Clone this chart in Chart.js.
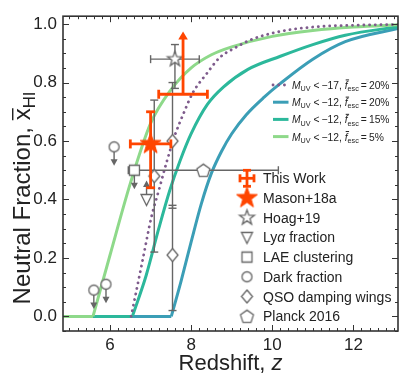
<!DOCTYPE html>
<html><head><meta charset="utf-8">
<script src="https://cdn.jsdelivr.net/npm/chart.js@4.4.1/dist/chart.umd.min.js"></script>
<style>html,body{margin:0;padding:0;background:#fff;overflow:hidden}canvas{display:block}</style>
</head><body>
<canvas id="chart" width="407" height="384"></canvas>
<script>
// ---------------- data ----------------
const xTickLabels = [6, 8, 10, 12];
const yTickLabels = [0.0, 0.2, 0.4, 0.6, 0.8, 1.0];

// model reionization histories: redshift and neutral fraction
const zM17f20 = [6.52, 6.8, 7.02, 7.2, 7.4, 7.6, 7.8, 8.04, 8.38, 8.7, 9.1, 9.5, 10.2, 11.0, 12.0, 13.2];
const xM17f20 = [0.0, 0.19, 0.34, 0.43, 0.53, 0.62, 0.69, 0.765, 0.83, 0.885, 0.92, 0.948, 0.975, 0.99, 0.996, 0.999];
const zM12f20 = [4.8, 7.51, 7.75, 8.0, 8.25, 8.5, 8.75, 9.0, 9.36, 9.8, 10.2, 11.0, 11.8, 13.2];
const xM12f20 = [0.0, 0.0, 0.12, 0.255, 0.385, 0.49, 0.565, 0.625, 0.69, 0.75, 0.797, 0.88, 0.94, 0.988];
const zM12f15 = [4.8, 6.55, 6.89, 7.2, 7.47, 7.72, 8.0, 8.4, 8.8, 9.4, 10.2, 11.0, 11.8, 13.2];
const xM12f15 = [0.0, 0.0, 0.14, 0.30, 0.43, 0.53, 0.625, 0.725, 0.785, 0.845, 0.89, 0.93, 0.962, 0.993];
const zM12f05 = [4.8, 5.58, 6.0, 6.5, 7.0, 7.5, 8.0, 8.5, 9.0, 10.0, 11.0, 12.0, 13.2];
const xM12f05 = [0.0, 0.0, 0.21, 0.455, 0.66, 0.775, 0.85, 0.895, 0.922, 0.958, 0.978, 0.99, 0.998];

// observational constraints
const thisWorkZ = [7.8];  const thisWorkX = [0.76]; const thisWorkZerr = [0.6]; const thisWorkLowLim = [0.215];
const masonZ = [7.0];     const masonX = [0.59];    const masonZerr = [0.5];    const masonXlo = [0.15]; const masonXhi = [0.11];
const hoagZ = [7.6];      const hoagX = [0.88];     const hoagZerr = [0.6];     const hoagXlo = [0.10];  const hoagXhi = [0.05];
const lyaZ = [6.9];       const lyaX = [0.40];      const lyaLowLim = [0.065];
const laeZ = [6.6];       const laeX = [0.50];      const laeUpLim = [0.065];
const darkZ = [5.6, 5.9, 6.1]; const darkX = [0.09, 0.11, 0.58]; const darkUpLim = [0.065, 0.065, 0.065];
const qsoZ = [7.09, 7.54, 7.54]; const qsoX = [0.48, 0.60, 0.21]; const qsoXlo = [0.26, 0.23, 0.19]; const qsoXhi = [0.26, 0.20, 0.17];
const planckZ = [8.3];    const planckX = [0.5];    const planckZerr = [1.85];

const obsLabels = ['This Work', 'Mason+18a', 'Hoag+19', 'Lyα fraction', 'LAE clustering', 'Dark fraction', 'QSO damping wings', 'Planck 2016'];
const modelMuv = ['−17', '−12', '−12', '−12'];
const modelFesc = ['20%', '20%', '15%', '5%'];

// ---------------- styles ----------------
const FONT = "'Liberation Sans', Arial, Helvetica, sans-serif";
const GREY = '#666666', ORANGE = '#ff4500', AXC = '#333333';
const C_M17 = '#7e5b8c', C_F20 = '#3b9eb6', C_F15 = '#2cb89b', C_F05 = '#8ed98a';

function makeCanvas(w, h, fn) { const c = document.createElement('canvas'); c.width = w; c.height = h; fn(c.getContext('2d'), w / 2, h / 2); return c; }
function polyMarker(pts, size, fill, stroke, lw) {
  return makeCanvas(size, size, (g, cx, cy) => {
    g.beginPath(); pts.forEach((p, i) => i ? g.lineTo(cx + p[0], cy + p[1]) : g.moveTo(cx + p[0], cy + p[1]));
    g.closePath(); g.fillStyle = fill; g.fill();
    if (lw) { g.lineWidth = lw; g.strokeStyle = stroke; g.lineJoin = 'miter'; g.stroke(); }
  });
}
function starPts(R) { const p = []; for (let i = 0; i < 10; i++) { const a = -Math.PI / 2 + i * Math.PI / 5, r = i % 2 ? R * 0.4 : R; p.push([r * Math.cos(a), r * Math.sin(a)]); } return p; }
function pentPts(R) { const p = []; for (let i = 0; i < 5; i++) { const a = -Math.PI / 2 + i * 2 * Math.PI / 5; p.push([R * Math.cos(a), R * Math.sin(a) + R * 0.1]); } return p; }
const mkMasonStar = polyMarker(starPts(11), 27, ORANGE, ORANGE, 1);
const mkHoagStar = polyMarker(starPts(7.8), 21, '#fff', GREY, 1.3);
const mkTri = polyMarker([[-5.5, -5], [5.5, -5], [0, 6]], 17, '#fff', GREY, 1.3);
const mkSquare = polyMarker([[-5, -5], [5, -5], [5, 5], [-5, 5]], 15, '#fff', GREY, 1.3);
const mkDiamond = polyMarker([[0, -6.5], [5.5, 0], [0, 6.5], [-5.5, 0]], 17, '#fff', GREY, 1.3);
const mkPent = polyMarker(pentPts(6.8), 19, '#fff', GREY, 1.3);
const mkCircle = makeCanvas(15, 15, (g, cx, cy) => { g.beginPath(); g.arc(cx, cy, 5, 0, 2 * Math.PI); g.fillStyle = '#fff'; g.fill(); g.lineWidth = 1.3; g.strokeStyle = GREY; g.stroke(); });

// ---------------- datasets ----------------
const pts = (zs, xs) => zs.map((z, i) => ({ x: z, y: xs[i] }));
function splitCurve(zs, xs) { // flat zero part + rising part
  let k = 0; for (let i = 0; i < xs.length; i++) if (xs[i] === 0) k = i;
  return { flat: pts(zs.slice(0, k + 1), xs.slice(0, k + 1)), rise: pts(zs.slice(k), xs.slice(k)) };
}
function curveSets(zs, xs, color, label) {
  const s = splitCurve(zs, xs);
  const base = { showLine: true, borderColor: color, borderWidth: 3, pointRadius: 0, fill: false };
  const out = [];
  if (s.flat.length > 1) out.push(Object.assign({}, base, { data: s.flat, tension: 0 }));
  out.push(Object.assign({}, base, { data: s.rise, cubicInterpolationMode: 'monotone', modelLabel: label }));
  return out;
}
const datasets = [];
datasets.push(...curveSets(zM12f20, xM12f20, C_F20, 1));
datasets.push(...curveSets(zM12f15, xM12f15, C_F15, 2));
datasets.push(...curveSets(zM12f05, xM12f05, C_F05, 3));
datasets.push({ showLine: true, data: pts(zM17f20, xM17f20), borderColor: C_M17, borderWidth: 2.8, borderDash: [0.1, 5.6], borderCapStyle: 'round', pointRadius: 0, cubicInterpolationMode: 'monotone', modelLabel: 0 });

const markerSet = (data, style, eb, legendIdx) => ({ data, pointStyle: style, pointRadius: 6, showLine: false, eb, legendIdx });
datasets.push(markerSet(pts(planckZ, planckX), mkPent, { color: GREY, lw: 1.4, cap: 4, zerr: planckZerr }, 7));
datasets.push(markerSet(pts(qsoZ, qsoX), mkDiamond, { color: GREY, lw: 1.4, cap: 4, lo: qsoXlo, hi: qsoXhi }, 6));
datasets.push(markerSet(pts(darkZ, darkX), mkCircle, { color: GREY, lw: 1.4, cap: 4, uplim: darkUpLim }, 5));
datasets.push(markerSet(pts(laeZ, laeX), mkSquare, { color: GREY, lw: 1.4, cap: 4, uplim: laeUpLim }, 4));
datasets.push(markerSet(pts(lyaZ, lyaX), mkTri, { color: GREY, lw: 1.4, cap: 4, lowlim: lyaLowLim }, 3));
datasets.push(markerSet(pts(hoagZ, hoagX), mkHoagStar, { color: GREY, lw: 1.4, cap: 4, zerr: hoagZerr, lo: hoagXlo, hi: hoagXhi }, 2));
datasets.push(markerSet(pts(masonZ, masonX), mkMasonStar, { color: ORANGE, lw: 2.8, cap: 4.5, zerr: masonZerr, lo: masonXlo, hi: masonXhi }, 1));
const thisWork = markerSet(pts(thisWorkZ, thisWorkX), 'circle', { color: ORANGE, lw: 2.8, cap: 4.5, zerr: thisWorkZerr, lowlim: thisWorkLowLim, head: [4.8, 8] }, 0);
thisWork.pointRadius = 0;
datasets.push(thisWork);
// later datasets on top
datasets.forEach((d, i) => { d.order = datasets.length - i; });

// ---------------- drawing helpers ----------------
function arrow(ctx, x, y0, y1, hw, hl) {
  const dir = Math.sign(y1 - y0);
  ctx.beginPath(); ctx.moveTo(x, y0); ctx.lineTo(x, y1 - dir * hl * 0.6); ctx.stroke();
  ctx.beginPath(); ctx.moveTo(x - hw, y1 - dir * hl); ctx.lineTo(x + hw, y1 - dir * hl); ctx.lineTo(x, y1); ctx.closePath(); ctx.fill();
}
function drawErr(chart, ds) {
  const eb = ds.eb; if (!eb) return;
  const ctx = chart.ctx, xs = chart.scales.x, ys = chart.scales.y;
  const head = eb.head || [3.5, 6.5];
  ctx.save(); ctx.strokeStyle = eb.color; ctx.fillStyle = eb.color; ctx.lineWidth = eb.lw; ctx.lineCap = 'butt';
  ds.data.forEach((p, i) => {
    const px = xs.getPixelForValue(p.x), py = ys.getPixelForValue(p.y);
    const seg = (a, b, c, d) => { ctx.beginPath(); ctx.moveTo(a, b); ctx.lineTo(c, d); ctx.stroke(); };
    if (eb.zerr) {
      const a = xs.getPixelForValue(p.x - eb.zerr[i]), b = xs.getPixelForValue(p.x + eb.zerr[i]);
      seg(a, py, b, py); seg(a, py - eb.cap, a, py + eb.cap); seg(b, py - eb.cap, b, py + eb.cap);
    }
    if (eb.lo) {
      const a = ys.getPixelForValue(p.y - eb.lo[i]), b = ys.getPixelForValue(p.y + eb.hi[i]);
      seg(px, a, px, b); seg(px - eb.cap, a, px + eb.cap, a); seg(px - eb.cap, b, px + eb.cap, b);
    }
    if (eb.uplim) arrow(ctx, px, py, ys.getPixelForValue(p.y - eb.uplim[i]), head[0], head[1]);
    if (eb.lowlim) arrow(ctx, px, py, ys.getPixelForValue(p.y + eb.lowlim[i]), head[0], head[1]);
  });
  ctx.restore();
}
function richText(ctx, x, y, parts, size, align) {
  const fontOf = p => (p.it ? 'italic ' : '') + (p.sub ? size * 0.7 : size) + 'px ' + FONT;
  const ws = parts.map(p => { ctx.font = fontOf(p); return ctx.measureText(p.t).width; });
  const total = ws.reduce((a, b) => a + b, 0);
  let cx = align === 'center' ? x - total / 2 : x;
  parts.forEach((p, i) => {
    ctx.font = fontOf(p);
    ctx.fillText(p.t, cx, y + (p.sub ? size * 0.22 : 0));
    if (p.bar) { ctx.save(); ctx.lineWidth = Math.max(1, size * 0.06); ctx.strokeStyle = ctx.fillStyle; ctx.beginPath(); const by = y - size * p.bar; ctx.moveTo(cx + (p.it ? 1 : 0), by); ctx.lineTo(cx + ws[i] + (p.it ? 1.5 : 0), by); ctx.stroke(); ctx.restore(); }
    cx += ws[i];
  });
}

const errPlugin = { id: 'errbars', beforeDatasetDraw(chart, args) { const ds = chart.data.datasets[args.index]; if (ds.eb) drawErr(chart, ds); } };

const framePlugin = {
  id: 'frame',
  afterDraw(chart) {
    const ctx = chart.ctx, a = chart.chartArea, xs = chart.scales.x, ys = chart.scales.y;
    ctx.save();
    ctx.strokeStyle = AXC; ctx.lineWidth = 1;
    const tick = (x0, y0, x1, y1) => { ctx.beginPath(); ctx.moveTo(x0, y0); ctx.lineTo(x1, y1); ctx.stroke(); };
    for (let k = 25; k <= 65; k++) { // x ticks every 0.2
      const v = k * 0.2; if (v < xs.min || v > xs.max) continue;
      const px = Math.round(xs.getPixelForValue(v)) + 0.5, L = (k % 10 === 0) ? 6 : 3;
      tick(px, a.bottom, px, a.bottom - L); tick(px, a.top, px, a.top + L);
    }
    for (let k = -1; k <= 20; k++) { // y ticks every 0.05
      const v = k * 0.05; if (v < ys.min || v > ys.max) continue;
      const py = Math.round(ys.getPixelForValue(v)) + 0.5, L = (k % 4 === 0) ? 6 : 3;
      tick(a.left, py, a.left + L, py); tick(a.right, py, a.right - L, py);
    }
    ctx.lineWidth = 1.6; ctx.strokeRect(a.left, a.top, a.right - a.left, a.bottom - a.top);

    // model legend (top right)
    ctx.fillStyle = '#222'; ctx.textBaseline = 'alphabetic';
    const models = chart.data.datasets.filter(d => d.modelLabel !== undefined).sort((p, q) => p.modelLabel - q.modelLabel);
    models.forEach((d, i) => {
      const y = 85 + i * 17.2;
      ctx.save(); ctx.strokeStyle = d.borderColor; ctx.lineWidth = d.borderWidth;
      if (d.borderDash) { ctx.setLineDash(d.borderDash); ctx.lineCap = 'round'; }
      ctx.beginPath(); ctx.moveTo(273, y); ctx.lineTo(288.5, y); ctx.stroke(); ctx.restore();
      const L = d.modelLabel;
      richText(ctx, 292, y + 4, [{ t: 'M', it: 1 }, { t: 'UV', sub: 1 }, { t: ' <\u2009' + modelMuv[L] + ', ' }, { t: 'f', it: 1, bar: 0.88 }, { t: 'esc', sub: 1 }, { t: '\u2009=\u2009' + modelFesc[L] }], 10.3, 'left');
    });

    // observation legend
    const obs = chart.data.datasets.filter(d => d.legendIdx !== undefined);
    obs.forEach(d => {
      const i = d.legendIdx, y = 178.3 + i * 19.7, mx = 247;
      if (i === 0) {
        ctx.save(); ctx.strokeStyle = ORANGE; ctx.lineWidth = 2.8;
        const s = (x0, y0, x1, y1) => { ctx.beginPath(); ctx.moveTo(x0, y0); ctx.lineTo(x1, y1); ctx.stroke(); };
        s(mx - 7, y, mx + 7, y); s(mx, y - 8, mx, y + 8);
        s(mx - 7, y - 4, mx - 7, y + 4); s(mx + 7, y - 4, mx + 7, y + 4);
        s(mx - 4, y - 8, mx + 4, y - 8); s(mx - 4, y + 8, mx + 4, y + 8);
        ctx.restore();
      } else {
        const img = d.pointStyle; ctx.drawImage(img, mx - img.width / 2, y - img.height / 2);
      }
      ctx.fillStyle = '#222';
      const lab = obsLabels[i];
      if (lab.indexOf('α') >= 0) { const k = lab.indexOf('α'); richText(ctx, 263, y + 5, [{ t: lab.slice(0, k) }, { t: 'α', it: 1 }, { t: lab.slice(k + 1) }], 14, 'left'); }
      else richText(ctx, 263, y + 5, [{ t: lab }], 14, 'left');
    });

    // axis titles
    ctx.fillStyle = '#222';
    richText(ctx, (a.left + a.right) / 2, 370, [{ t: 'Redshift, ' }, { t: 'z', it: 1 }], 22, 'center');
    ctx.translate(30, 198); ctx.rotate(-Math.PI / 2);
    richText(ctx, 0, 0, [{ t: 'Neutral Fraction, ' }, { t: 'x', bar: 0.72 }, { t: 'HI', sub: 1 }], 24, 'center');
    ctx.restore();
  }
};

Chart.defaults.font.family = FONT;
new Chart(document.getElementById('chart'), {
  type: 'scatter',
  data: { datasets },
  options: {
    responsive: false, animation: false, devicePixelRatio: 1, events: [],
    layout: { padding: { left: 0, right: 9, top: 8, bottom: 0 } },
    plugins: { legend: { display: false }, tooltip: { enabled: false }, title: { display: false } },
    scales: {
      x: {
        type: 'linear', position: 'bottom', min: 4.84, max: 13.1,
        afterBuildTicks: s => { s.ticks = xTickLabels.map(v => ({ value: v })); },
        afterFit: s => { s.height = 53; },
        grid: { display: false, drawTicks: false }, border: { display: false },
        ticks: { font: { family: FONT, size: 17 }, color: '#222', padding: 4, maxRotation: 0, autoSkip: false, callback: v => String(v) }
      },
      y: {
        type: 'linear', min: -0.05, max: 1.027,
        afterBuildTicks: s => { s.ticks = yTickLabels.map(v => ({ value: v })); },
        afterFit: s => { s.width = 63; },
        grid: { display: false, drawTicks: false }, border: { display: false },
        ticks: { font: { family: FONT, size: 17 }, color: '#222', padding: 6, autoSkip: false, callback: v => Number(v).toFixed(1) }
      }
    }
  },
  plugins: [errPlugin, framePlugin]
});
</script>
</body></html>
